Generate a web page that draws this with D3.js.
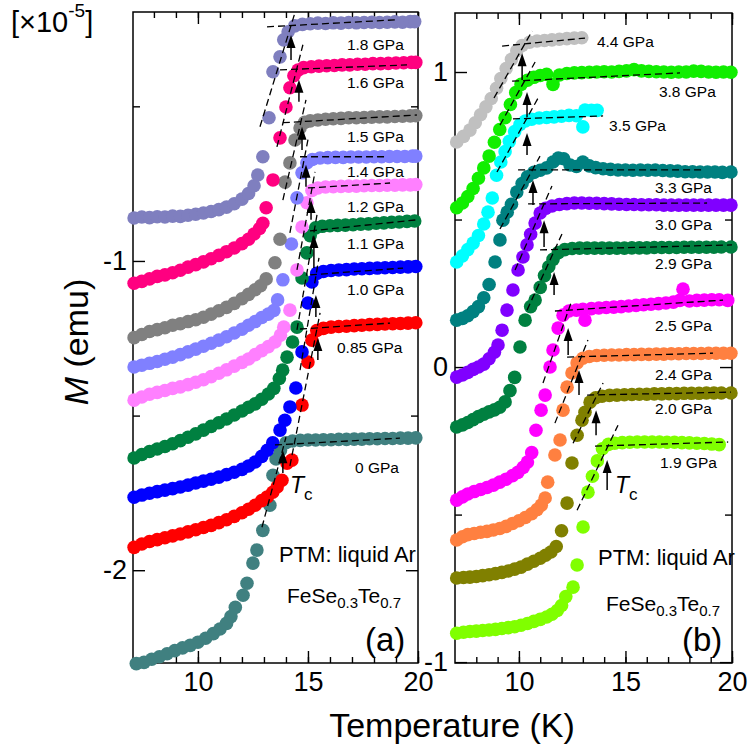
<!DOCTYPE html>
<html>
<head>
<meta charset="utf-8">
<script src="https://cdn.jsdelivr.net/npm/d3@7"></script>
<style>
body { margin: 0; background: #fff; }
svg { font-family: "Liberation Sans", Arial, sans-serif; }
</style>
</head>
<body>
<div id="chart"></div>
<script>
// ---- panel (a): M (x1e-5 emu) vs T (K) ----
const a18 = [[7.1,-0.861],[7.45,-0.858],[7.8,-0.860],[8.15,-0.857],[8.5,-0.858],[8.85,-0.855],[9.2,-0.856],[9.55,-0.852],[9.9,-0.849],[10.25,-0.845],[10.6,-0.840],[10.95,-0.834],[11.3,-0.826],[11.65,-0.815],[12.0,-0.800],[12.3,-0.782],[12.55,-0.757],[12.72,-0.722],[12.95,-0.663],[13.23,-0.537],[13.41,-0.388],[13.73,-0.340],[13.9,-0.285],[14.1,-0.259],[14.4,-0.240],[14.75,-0.235],[15.1,-0.233],[15.45,-0.231],[15.8,-0.232],[16.15,-0.230],[16.5,-0.231],[16.85,-0.229],[17.2,-0.230],[17.55,-0.229],[17.9,-0.228],[18.25,-0.229],[18.6,-0.228],[18.95,-0.227],[19.3,-0.228],[19.65,-0.226],[19.85,-0.226]];
const a16 = [[7.1,-1.072],[7.45,-1.066],[7.8,-1.058],[8.15,-1.050],[8.5,-1.045],[8.85,-1.038],[9.2,-1.030],[9.55,-1.020],[9.9,-1.012],[10.25,-1.003],[10.6,-0.993],[10.95,-0.982],[11.3,-0.970],[11.65,-0.958],[12.0,-0.944],[12.3,-0.930],[12.55,-0.913],[12.8,-0.895],[12.95,-0.878],[13.1,-0.828],[13.41,-0.738],[13.73,-0.602],[14.0,-0.502],[14.18,-0.440],[14.36,-0.401],[14.55,-0.383],[14.8,-0.375],[15.15,-0.372],[15.5,-0.370],[15.85,-0.369],[16.2,-0.368],[16.55,-0.366],[16.9,-0.366],[17.25,-0.364],[17.6,-0.364],[17.95,-0.362],[18.3,-0.362],[18.65,-0.361],[19.0,-0.360],[19.35,-0.359],[19.7,-0.358],[19.9,-0.358]];
const a15 = [[7.1,-1.248],[7.45,-1.238],[7.8,-1.228],[8.15,-1.222],[8.5,-1.216],[8.85,-1.208],[9.2,-1.203],[9.55,-1.196],[9.9,-1.190],[10.25,-1.182],[10.6,-1.172],[10.95,-1.161],[11.3,-1.150],[11.65,-1.137],[12.0,-1.122],[12.3,-1.108],[12.6,-1.093],[12.85,-1.080],[13.1,-1.058],[13.5,-1.006],[13.73,-0.930],[13.96,-0.745],[14.18,-0.683],[14.41,-0.609],[14.64,-0.570],[14.85,-0.552],[15.1,-0.547],[15.45,-0.544],[15.8,-0.542],[16.15,-0.540],[16.5,-0.539],[16.85,-0.537],[17.2,-0.537],[17.55,-0.536],[17.9,-0.535],[18.25,-0.534],[18.6,-0.534],[18.95,-0.533],[19.3,-0.532],[19.65,-0.531],[19.9,-0.530]];
const a14 = [[7.1,-1.343],[7.45,-1.337],[7.8,-1.331],[8.15,-1.325],[8.5,-1.318],[8.85,-1.311],[9.2,-1.303],[9.55,-1.294],[9.9,-1.285],[10.25,-1.276],[10.6,-1.266],[10.95,-1.256],[11.3,-1.245],[11.65,-1.233],[12.0,-1.221],[12.3,-1.208],[12.6,-1.196],[12.9,-1.183],[13.2,-1.172],[13.45,-1.160],[13.62,-1.126],[13.86,-1.061],[14.25,-0.945],[14.5,-0.796],[14.73,-0.715],[14.95,-0.683],[15.2,-0.672],[15.55,-0.667],[15.9,-0.666],[16.25,-0.665],[16.6,-0.665],[16.95,-0.664],[17.3,-0.664],[17.65,-0.664],[18.0,-0.663],[18.35,-0.663],[18.7,-0.662],[19.05,-0.662],[19.4,-0.662],[19.75,-0.661],[19.9,-0.661]];
const a12 = [[7.1,-1.450],[7.45,-1.440],[7.8,-1.431],[8.15,-1.425],[8.5,-1.419],[8.85,-1.412],[9.2,-1.407],[9.55,-1.400],[9.9,-1.392],[10.25,-1.384],[10.6,-1.374],[10.95,-1.363],[11.3,-1.352],[11.65,-1.340],[12.0,-1.328],[12.3,-1.317],[12.6,-1.303],[12.9,-1.290],[13.2,-1.277],[13.5,-1.262],[13.75,-1.240],[13.9,-1.214],[14.18,-1.159],[14.5,-1.029],[14.73,-0.890],[14.95,-0.812],[15.18,-0.772],[15.45,-0.764],[15.8,-0.761],[16.15,-0.760],[16.5,-0.759],[16.85,-0.758],[17.2,-0.758],[17.55,-0.757],[17.9,-0.756],[18.25,-0.756],[18.6,-0.755],[18.95,-0.755],[19.3,-0.754],[19.65,-0.754],[19.9,-0.753]];
const a11 = [[7.1,-1.637],[7.45,-1.626],[7.8,-1.616],[8.15,-1.608],[8.5,-1.600],[8.85,-1.591],[9.2,-1.581],[9.55,-1.570],[9.9,-1.559],[10.25,-1.547],[10.6,-1.535],[10.95,-1.523],[11.3,-1.511],[11.65,-1.498],[12.0,-1.485],[12.3,-1.473],[12.6,-1.462],[12.9,-1.447],[13.2,-1.430],[13.45,-1.412],[13.7,-1.380],[13.85,-1.353],[14.05,-1.311],[14.3,-1.262],[14.5,-1.214],[14.73,-1.055],[14.95,-0.974],[15.1,-0.918],[15.35,-0.893],[15.65,-0.888],[16.0,-0.886],[16.35,-0.885],[16.7,-0.884],[17.05,-0.883],[17.4,-0.881],[17.75,-0.880],[18.1,-0.878],[18.45,-0.877],[18.8,-0.875],[19.15,-0.874],[19.5,-0.872],[19.85,-0.871]];
const a10 = [[7.1,-1.764],[7.45,-1.757],[7.8,-1.751],[8.15,-1.746],[8.5,-1.741],[8.85,-1.736],[9.2,-1.731],[9.55,-1.725],[9.9,-1.718],[10.25,-1.712],[10.6,-1.706],[10.95,-1.699],[11.3,-1.691],[11.65,-1.683],[12.0,-1.674],[12.3,-1.663],[12.6,-1.650],[12.9,-1.632],[13.15,-1.612],[13.4,-1.588],[13.73,-1.547],[13.95,-1.515],[14.18,-1.472],[14.45,-1.411],[14.73,-1.294],[15.0,-1.136],[15.18,-1.068],[15.4,-1.040],[15.7,-1.034],[16.05,-1.031],[16.4,-1.029],[16.75,-1.028],[17.1,-1.026],[17.45,-1.025],[17.8,-1.024],[18.15,-1.023],[18.5,-1.022],[18.85,-1.021],[19.2,-1.020],[19.55,-1.019],[19.9,-1.018]];
const a085 = [[7.1,-1.926],[7.45,-1.915],[7.8,-1.907],[8.15,-1.901],[8.5,-1.895],[8.85,-1.889],[9.2,-1.883],[9.55,-1.876],[9.9,-1.869],[10.25,-1.862],[10.6,-1.855],[10.95,-1.846],[11.3,-1.837],[11.65,-1.826],[12.0,-1.814],[12.3,-1.803],[12.6,-1.790],[12.9,-1.775],[13.15,-1.763],[13.4,-1.748],[13.6,-1.731],[13.82,-1.709],[14.05,-1.654],[14.27,-1.644],[14.73,-1.466],[15.0,-1.327],[15.18,-1.256],[15.4,-1.225],[15.7,-1.218],[16.05,-1.214],[16.4,-1.212],[16.75,-1.211],[17.1,-1.209],[17.45,-1.208],[17.8,-1.206],[18.15,-1.205],[18.5,-1.204],[18.85,-1.203],[19.2,-1.202],[19.55,-1.201],[19.9,-1.200]];
const a0 = [[7.2,-2.302],[7.55,-2.298],[7.9,-2.288],[8.25,-2.280],[8.6,-2.270],[8.95,-2.260],[9.3,-2.251],[9.65,-2.243],[10.0,-2.233],[10.35,-2.220],[10.7,-2.205],[11.0,-2.190],[11.3,-2.172],[11.5,-2.150],[11.7,-2.120],[12.05,-2.081],[12.23,-2.042],[12.5,-1.977],[12.68,-1.935],[12.95,-1.871],[13.27,-1.790],[13.41,-1.693],[13.55,-1.640],[13.75,-1.612],[14.0,-1.588],[14.3,-1.582],[14.65,-1.580],[15.0,-1.579],[15.35,-1.579],[15.7,-1.578],[16.05,-1.578],[16.4,-1.577],[16.75,-1.577],[17.1,-1.576],[17.45,-1.576],[17.8,-1.575],[18.15,-1.575],[18.5,-1.574],[18.85,-1.574],[19.2,-1.573],[19.55,-1.573],[19.9,-1.572]];

// ---- panel (b) ----
const b44 = [[7.08,0.763],[7.4,0.782],[7.7,0.803],[7.95,0.828],[8.2,0.855],[8.45,0.882],[8.7,0.910],[8.95,0.945],[9.15,0.978],[9.4,1.012],[9.65,1.043],[9.9,1.072],[10.15,1.090],[10.5,1.101],[10.85,1.105],[11.2,1.107],[11.55,1.109],[11.9,1.111],[12.25,1.113],[12.6,1.115],[12.95,1.116]];
const b38 = [[7.08,0.540],[7.35,0.556],[7.6,0.578],[7.85,0.605],[8.1,0.640],[8.35,0.675],[8.6,0.715],[8.85,0.762],[9.1,0.805],[9.35,0.845],[9.6,0.890],[9.85,0.930],[10.1,0.958],[10.4,0.972],[10.7,0.982],[11.0,0.988],[11.3,0.992],[11.6,0.958],[11.9,0.990],[12.25,0.995],[12.6,0.997],[12.95,0.998],[13.3,0.999],[13.65,1.0],[14.0,1.001],[14.35,1.0],[14.7,1.002],[15.05,1.004],[15.4,1.008],[15.75,1.004],[16.1,1.002],[16.45,1.001],[16.8,1.0],[17.15,0.999],[17.5,1.0],[17.85,1.0],[18.2,1.003],[18.55,1.002],[18.9,1.0],[19.25,0.999],[19.6,1.0],[19.95,0.999]];
const b35 = [[7.08,0.356],[7.35,0.377],[7.6,0.398],[7.85,0.420],[8.1,0.446],[8.35,0.485],[8.55,0.525],[8.75,0.573],[8.95,0.650],[9.15,0.695],[9.35,0.730],[9.55,0.765],[9.8,0.798],[10.05,0.822],[10.3,0.834],[10.6,0.840],[10.95,0.844],[11.3,0.846],[11.65,0.848],[12.0,0.850],[12.35,0.853],[12.7,0.852],[13.0,0.814],[13.1,0.871],[13.4,0.870],[13.67,0.870]];
const b33 = [[7.08,0.159],[7.35,0.165],[7.6,0.174],[7.85,0.188],[8.1,0.205],[8.35,0.235],[8.6,0.280],[8.88,0.356],[9.11,0.431],[9.25,0.498],[9.45,0.525],[9.65,0.552],[9.9,0.593],[10.15,0.622],[10.4,0.645],[10.7,0.660],[11.0,0.667],[11.3,0.675],[11.6,0.695],[11.85,0.708],[12.1,0.706],[12.4,0.685],[12.7,0.680],[13.0,0.695],[13.3,0.682],[13.6,0.676],[13.95,0.672],[14.3,0.670],[14.65,0.668],[15.0,0.668],[15.35,0.667],[15.7,0.668],[16.05,0.667],[16.4,0.668],[16.75,0.666],[17.1,0.665],[17.45,0.664],[17.8,0.662],[18.15,0.662],[18.5,0.661],[18.85,0.661],[19.2,0.661],[19.55,0.660],[19.95,0.661]];
const b30 = [[7.08,-0.034],[7.35,-0.027],[7.6,-0.018],[7.85,-0.008],[8.1,0.000],[8.35,0.010],[8.6,0.028],[8.85,0.050],[9.02,0.075],[9.21,0.125],[9.44,0.193],[9.72,0.261],[9.96,0.329],[10.19,0.373],[10.38,0.414],[10.55,0.450],[10.76,0.488],[11.0,0.522],[11.25,0.538],[11.55,0.546],[11.9,0.551],[12.25,0.554],[12.6,0.556],[12.95,0.556],[13.3,0.555],[13.65,0.555],[14.0,0.554],[14.35,0.553],[14.7,0.552],[15.05,0.551],[15.4,0.551],[15.75,0.550],[16.1,0.550],[16.45,0.550],[16.8,0.549],[17.15,0.549],[17.5,0.549],[17.85,0.549],[18.2,0.549],[18.55,0.549],[18.9,0.549],[19.25,0.549],[19.6,0.549],[19.95,0.549]];
const b29 = [[7.08,-0.203],[7.35,-0.196],[7.6,-0.188],[7.85,-0.178],[8.1,-0.168],[8.35,-0.160],[8.6,-0.152],[8.85,-0.145],[9.1,-0.136],[9.35,-0.118],[9.58,-0.080],[9.8,-0.035],[10.05,0.068],[10.29,0.159],[10.55,0.205],[10.76,0.227],[11.0,0.270],[11.2,0.310],[11.4,0.340],[11.6,0.365],[11.85,0.388],[12.15,0.398],[12.5,0.402],[12.85,0.403],[13.2,0.403],[13.55,0.403],[13.9,0.403],[14.25,0.403],[14.6,0.403],[14.95,0.403],[15.3,0.404],[15.65,0.404],[16.0,0.404],[16.35,0.405],[16.7,0.405],[17.05,0.405],[17.4,0.405],[17.75,0.406],[18.1,0.406],[18.45,0.406],[18.8,0.406],[19.15,0.406],[19.5,0.407],[19.95,0.407]];
const b25 = [[7.08,-0.451],[7.35,-0.440],[7.6,-0.430],[7.9,-0.422],[8.2,-0.415],[8.5,-0.408],[8.8,-0.400],[9.1,-0.390],[9.4,-0.380],[9.7,-0.368],[9.95,-0.357],[10.2,-0.340],[10.4,-0.322],[10.6,-0.290],[10.8,-0.214],[11.04,-0.146],[11.23,-0.095],[11.46,0.000],[11.6,0.058],[11.84,0.132],[12.07,0.176],[12.35,0.190],[12.7,0.193],[13.0,0.196],[13.1,0.159],[13.4,0.198],[13.75,0.200],[14.1,0.202],[14.45,0.203],[14.8,0.205],[15.15,0.207],[15.5,0.209],[15.85,0.211],[16.2,0.213],[16.55,0.215],[16.9,0.217],[17.25,0.220],[17.55,0.226],[17.7,0.264],[18.0,0.224],[18.35,0.226],[18.7,0.227],[19.05,0.228],[19.4,0.228],[19.8,0.226]];
const b24 = [[7.08,-0.586],[7.35,-0.575],[7.6,-0.568],[7.9,-0.564],[8.2,-0.560],[8.5,-0.557],[8.8,-0.552],[9.1,-0.547],[9.4,-0.540],[9.7,-0.530],[10.0,-0.521],[10.3,-0.510],[10.6,-0.497],[10.85,-0.483],[11.05,-0.468],[11.23,-0.444],[11.35,-0.390],[11.69,-0.298],[11.93,-0.247],[12.07,-0.146],[12.26,-0.068],[12.49,-0.020],[12.73,0.014],[13.0,0.030],[13.3,0.036],[13.65,0.039],[14.0,0.040],[14.35,0.041],[14.7,0.041],[15.05,0.042],[15.4,0.042],[15.75,0.043],[16.1,0.043],[16.45,0.044],[16.8,0.044],[17.15,0.045],[17.5,0.045],[17.85,0.046],[18.2,0.046],[18.55,0.046],[18.9,0.047],[19.25,0.047],[19.6,0.047],[19.95,0.047]];
const b20 = [[7.08,-0.715],[7.4,-0.713],[7.7,-0.712],[8.0,-0.710],[8.3,-0.707],[8.6,-0.704],[8.9,-0.700],[9.2,-0.696],[9.5,-0.691],[9.8,-0.685],[10.1,-0.678],[10.4,-0.668],[10.7,-0.658],[11.0,-0.648],[11.25,-0.638],[11.5,-0.627],[11.75,-0.608],[12.0,-0.555],[12.26,-0.461],[12.49,-0.325],[12.73,-0.231],[12.96,-0.180],[13.1,-0.153],[13.34,-0.119],[13.6,-0.104],[13.9,-0.099],[14.25,-0.096],[14.6,-0.095],[14.95,-0.094],[15.3,-0.093],[15.65,-0.092],[16.0,-0.092],[16.35,-0.091],[16.7,-0.091],[17.05,-0.090],[17.4,-0.090],[17.75,-0.089],[18.1,-0.089],[18.45,-0.089],[18.8,-0.088],[19.15,-0.088],[19.5,-0.088],[19.95,-0.088]];
const b19 = [[7.08,-0.902],[7.4,-0.899],[7.7,-0.896],[8.0,-0.895],[8.3,-0.893],[8.6,-0.891],[8.9,-0.889],[9.2,-0.886],[9.5,-0.883],[9.8,-0.880],[10.1,-0.875],[10.4,-0.869],[10.7,-0.862],[11.0,-0.855],[11.3,-0.847],[11.55,-0.838],[11.8,-0.825],[12.0,-0.808],[12.2,-0.778],[12.54,-0.746],[12.73,-0.671],[13.01,-0.542],[13.24,-0.424],[13.45,-0.370],[13.68,-0.318],[13.92,-0.277],[14.2,-0.262],[14.5,-0.258],[14.85,-0.256],[15.2,-0.255],[15.55,-0.254],[15.9,-0.254],[16.25,-0.254],[16.6,-0.254],[16.95,-0.255],[17.3,-0.255],[17.65,-0.256],[18.0,-0.257],[18.35,-0.258],[18.7,-0.259],[19.05,-0.261],[19.4,-0.263]];

// series order = drawing order (first is drawn below)
const namesA = ["0 GPa", "0.85 GPa", "1.0 GPa", "1.1 GPa", "1.2 GPa", "1.4 GPa", "1.5 GPa", "1.6 GPa", "1.8 GPa"];
const dataA = [a0, a085, a10, a11, a12, a14, a15, a16, a18];
const colorsA = ["#408080", "#ff0000", "#0000ff", "#008040", "#ff80ff", "#8080ff", "#808080", "#ff0080", "#7f7fbf"];
// label anchors (T, M) in the same order
const labelsA = [[17.14,-1.686],[16.32,-1.298],[16.77,-1.110],[16.77,-0.961],[16.77,-0.842],[16.77,-0.729],[16.77,-0.615],[16.77,-0.441],[16.77,-0.318]];

const namesB = ["1.9 GPa", "2.0 GPa", "2.4 GPa", "2.5 GPa", "2.9 GPa", "3.0 GPa", "3.3 GPa", "3.5 GPa", "3.8 GPa", "4.4 GPa"];
const dataB = [b19, b20, b24, b25, b29, b30, b33, b35, b38, b44];
const colorsB = ["#80ff00", "#808000", "#ff8040", "#ff00ff", "#008040", "#8000ff", "#008080", "#00ffff", "#11ee00", "#c0c0c0"];
const labelsB = [[16.62,-0.342],[16.39,-0.159],[16.39,-0.044],[16.39,0.122],[16.39,0.332],[16.39,0.464],[16.39,0.590],[14.23,0.800],[16.57,0.915],[13.66,1.085]];

// linear fits (T1, M1, T2, M2) and Tc arrows (T, M from, M to)
const fitsA = [
  [13.5,-1.595,19.18,-1.573],[14.64,-1.220,18.73,-1.201],[15.09,-1.045,19.32,-1.023],[15.09,-0.903,19.95,-0.867],
  [15.0,-0.764,18.73,-0.748],[14.64,-0.663,18.59,-0.663],[13.86,-0.553,19.95,-0.528],[13.73,-0.382,19.5,-0.366],[13.14,-0.243,19.05,-0.220],
  [12.91,-1.861,14.0,-1.570],[14.18,-1.663,15.55,-1.168],[14.64,-1.353,15.5,-0.990],[14.5,-1.223,15.41,-0.851],
  [14.5,-1.029,15.32,-0.712],[14.18,-0.909,15.0,-0.608],[13.86,-0.803,14.91,-0.479],[13.59,-0.631,14.77,-0.301],[12.82,-0.566,14.41,-0.197]
];
const arrowsA = [[13.86,-1.686,-1.612],[15.45,-1.320,-1.249],[15.36,-1.181,-1.110],[15.27,-1.023,-0.916],[15.14,-0.867,-0.803],[14.91,-0.760,-0.689],[14.73,-0.641,-0.566],[14.59,-0.485,-0.414],[14.23,-0.350,-0.269]];

const fitsB = [
  [13.57,-0.268,19.82,-0.254],[13.2,-0.095,19.95,-0.085],[12.26,0.034,19.11,0.047],[11.69,0.190,19.58,0.227],[10.99,0.397,20.0,0.414],
  [10.43,0.553,18.83,0.556],[9.96,0.668,18.64,0.668],[9.72,0.841,13.95,0.851],[9.68,0.969,17.56,0.997],[9.21,1.088,13.1,1.115],
  [12.73,-0.485,14.65,-0.197],[12.54,-0.258,13.95,-0.054],[11.69,-0.190,13.24,0.092],[11.13,-0.054,12.49,0.227],[10.38,0.193,12.02,0.451],
  [9.82,0.329,11.55,0.614],[9.11,0.468,10.99,0.715],[8.97,0.661,10.9,0.912],[9.11,0.820,10.76,1.034],[8.83,0.912,10.62,1.139]
];
const arrowsB = [[14.14,-0.417,-0.315],[13.62,-0.231,-0.146],[12.82,-0.095,-0.010],[12.31,0.041,0.132],[11.65,0.244,0.322],[11.18,0.407,0.498],[10.66,0.549,0.634],[10.38,0.719,0.793],[10.38,0.847,0.932],[10.15,0.973,1.064]];

const xTicksMajor = [10, 15, 20];
const xTicksMinor = d3.range(8, 21);
const yTicksA = [-1, -2], yMinorA = [-0.5, -1.5];
const yTicksB = [1, 0, -1], yMinorB = [0.5, -0.5];

// ---- layout ----
const width = 749, height = 746;
const svg = d3.select("#chart").append("svg")
    .attr("width", width)
    .attr("height", height);

const xA = d3.scaleLinear().domain([7.05, 20]).range([133, 418]);
const yA = d3.scaleLinear().domain([-2.30, -0.195]).range([663, 12]);
const xB = d3.scaleLinear().domain([7, 20]).range([455, 732]);
const yB = d3.scaleLinear().domain([-1.003, 1.2]).range([663, 13]);

function drawFrame(x, y, yMajor, yMinor, pad) {
    const [x0, x1] = x.range();
    const [y0, y1] = y.range();
    const g = svg.append("g");
    const put = (axis, tx, ty) => g.append("g")
        .attr("transform", `translate(${tx},${ty})`)
        .call(axis);
    put(d3.axisBottom(x).tickValues(xTicksMinor).tickSize(-6).tickFormat(""), 0, y0);
    put(d3.axisBottom(x).tickValues(xTicksMajor).tickSize(-12).tickPadding(9).tickFormat(d3.format("d")), 0, y0);
    put(d3.axisTop(x).tickValues(xTicksMinor).tickSize(-6).tickFormat(""), 0, y1);
    put(d3.axisTop(x).tickValues(xTicksMajor).tickSize(-12).tickFormat(""), 0, y1);
    put(d3.axisLeft(y).tickValues(yMinor).tickSize(-7).tickFormat(""), x0, 0);
    put(d3.axisLeft(y).tickValues(yMajor).tickSize(-12).tickPadding(pad).tickFormat(d => String(d)), x0, 0);
    put(d3.axisRight(y).tickValues(yMinor).tickSize(-7).tickFormat(""), x1, 0);
    put(d3.axisRight(y).tickValues(yMajor).tickSize(-12).tickFormat(""), x1, 0);
    g.selectAll(".domain").remove();
    g.selectAll(".tick line").attr("stroke", "#000").attr("stroke-width", 1.4);
    g.selectAll("g").attr("font-family", null).attr("font-size", null);
    g.selectAll(".tick text").attr("font-size", 27).attr("fill", "#000");
    g.append("rect")
        .attr("x", x0).attr("y", y1)
        .attr("width", x1 - x0).attr("height", y0 - y1)
        .attr("fill", "none").attr("stroke", "#000").attr("stroke-width", 1.5);
}

function drawPanel(x, y, data, colors, names, labels, fits, arrows) {
    const g = svg.append("g");
    data.forEach((series, i) => {
        g.append("g").selectAll("circle")
            .data(series)
            .join("circle")
            .attr("cx", d => x(d[0]))
            .attr("cy", d => y(d[1]))
            .attr("r", 6.8)
            .attr("fill", colors[i]);
    });
    g.append("g").selectAll("line")
        .data(fits)
        .join("line")
        .attr("x1", d => x(d[0])).attr("y1", d => y(d[1]))
        .attr("x2", d => x(d[2])).attr("y2", d => y(d[3]))
        .attr("stroke", "#000")
        .attr("stroke-width", 1.3)
        .attr("stroke-dasharray", "7,4");
    const ar = g.append("g").selectAll("g")
        .data(arrows)
        .join("g");
    ar.append("line")
        .attr("x1", d => x(d[0])).attr("y1", d => y(d[1]))
        .attr("x2", d => x(d[0])).attr("y2", d => y(d[2]) + 10)
        .attr("stroke", "#000").attr("stroke-width", 1.5);
    ar.append("path")
        .attr("d", d => {
            const px = x(d[0]), py = y(d[2]);
            return `M${px},${py}L${px - 4.5},${py + 13}L${px + 4.5},${py + 13}Z`;
        })
        .attr("fill", "#000");
    g.append("g").selectAll("text")
        .data(labels)
        .join("text")
        .attr("x", d => x(d[0]))
        .attr("y", d => y(d[1]))
        .attr("font-size", 15.5)
        .text((d, i) => names[i]);
}

drawFrame(xA, yA, yTicksA, yMinorA, 6);
drawFrame(xB, yB, yTicksB, yMinorB, 7);
drawPanel(xA, yA, dataA, colorsA, namesA, labelsA, fitsA, arrowsA);
drawPanel(xB, yB, dataB, colorsB, namesB, labelsB, fitsB, arrowsB);

// ---- texts ----
function tc(px, py) {
    const t = svg.append("text").attr("x", px).attr("y", py).attr("font-size", 23);
    t.append("tspan").attr("font-style", "italic").text("T");
    t.append("tspan").attr("font-size", 17).attr("dy", 7).text("c");
}
tc(290, 493);
tc(615, 493);

function sample(px, py, py2) {
    svg.append("text").attr("x", px).attr("y", py).attr("font-size", 22).text("PTM: liquid Ar");
    const t = svg.append("text").attr("x", px + 8).attr("y", py2).attr("font-size", 21);
    t.append("tspan").text("FeSe");
    t.append("tspan").attr("font-size", 15).attr("dy", 5).text("0.3");
    t.append("tspan").attr("dy", -5).text("Te");
    t.append("tspan").attr("font-size", 15).attr("dy", 5).text("0.7");
}
sample(279, 562, 603);
sample(598, 565, 611);

svg.append("text").attr("x", 365).attr("y", 651).attr("font-size", 33).text("(a)");
svg.append("text").attr("x", 682).attr("y", 651).attr("font-size", 33).text("(b)");

const unit = svg.append("text").attr("x", 11).attr("y", 32).attr("font-size", 29);
unit.append("tspan").text("[\u00d710");
unit.append("tspan").attr("font-size", 19).attr("dy", -15).text("-5");
unit.append("tspan").attr("dy", 15).text("]");

svg.append("text")
    .attr("x", 452).attr("y", 737)
    .attr("text-anchor", "middle")
    .attr("font-size", 34)
    .text("Temperature (K)");

const yl = svg.append("text")
    .attr("transform", "translate(88,342) rotate(-90)")
    .attr("text-anchor", "middle")
    .attr("font-size", 34);
yl.append("tspan").attr("font-style", "italic").text("M");
yl.append("tspan").text(" (emu)");
</script>
</body>
</html>
